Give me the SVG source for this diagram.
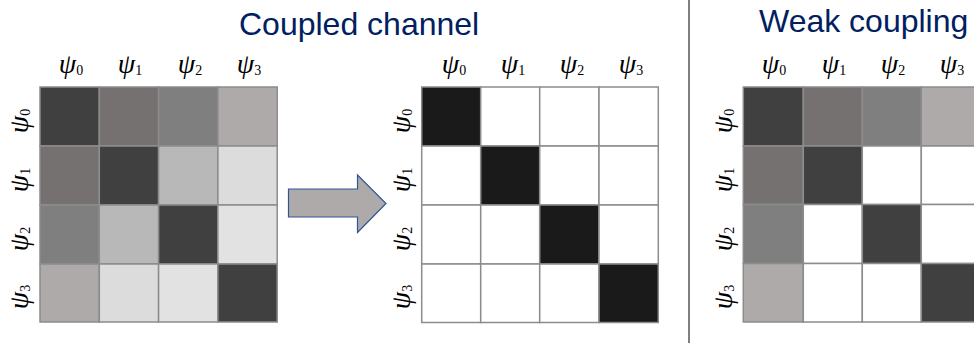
<svg xmlns="http://www.w3.org/2000/svg" width="974" height="347" viewBox="0 0 974 347">
<style>
.title{font-family:"Liberation Sans",Arial,sans-serif;font-size:32px;fill:#002060}
.lbl{font-family:"Liberation Serif","DejaVu Serif",serif;font-style:italic;font-size:28px;fill:#000;text-anchor:middle}
.sub{font-style:normal;font-size:14px}
.c{stroke:#8c8c8c;stroke-width:1.5}
.d{fill:#404040}.a{fill:#767171}.b{fill:#7f7f7f}.e{fill:#aeaaaa}.f{fill:#b8b8b8}.g{fill:#dcdcdc}.h{fill:#e2e2e2}.w{fill:#ffffff}.k{fill:#1a1a1a}
</style>
<rect width="974" height="347" fill="#ffffff"/>
<text class="title" x="239" y="35">Coupled channel</text>
<text class="title" x="759" y="32">Weak coupling</text>
<line x1="689" y1="0" x2="689" y2="343" stroke="#7f7f7f" stroke-width="2"/>

<g id="matrix-coupled">
<g transform="translate(40,87)">
<rect class="c d" x="0" y="0" width="59.3" height="59"/>
<rect class="c a" x="59.3" y="0" width="59.3" height="59"/>
<rect class="c b" x="118.6" y="0" width="59.3" height="59"/>
<rect class="c e" x="177.9" y="0" width="59.3" height="59"/>
<rect class="c a" x="0" y="59" width="59.3" height="59"/>
<rect class="c d" x="59.3" y="59" width="59.3" height="59"/>
<rect class="c f" x="118.6" y="59" width="59.3" height="59"/>
<rect class="c g" x="177.9" y="59" width="59.3" height="59"/>
<rect class="c b" x="0" y="118" width="59.3" height="59"/>
<rect class="c f" x="59.3" y="118" width="59.3" height="59"/>
<rect class="c d" x="118.6" y="118" width="59.3" height="59"/>
<rect class="c h" x="177.9" y="118" width="59.3" height="59"/>
<rect class="c e" x="0" y="177" width="59.3" height="58"/>
<rect class="c g" x="59.3" y="177" width="59.3" height="58"/>
<rect class="c h" x="118.6" y="177" width="59.3" height="58"/>
<rect class="c d" x="177.9" y="177" width="59.3" height="58"/>
</g>
<text class="lbl" x="71" y="73">ψ<tspan class="sub" dy="2">0</tspan></text>
<text class="lbl" x="130" y="73">ψ<tspan class="sub" dy="2">1</tspan></text>
<text class="lbl" x="190" y="73">ψ<tspan class="sub" dy="2">2</tspan></text>
<text class="lbl" x="249" y="73">ψ<tspan class="sub" dy="2">3</tspan></text>
<text class="lbl" transform="translate(28,121) rotate(-90)">ψ<tspan class="sub" dy="2">0</tspan></text>
<text class="lbl" transform="translate(28,180) rotate(-90)">ψ<tspan class="sub" dy="2">1</tspan></text>
<text class="lbl" transform="translate(28,239) rotate(-90)">ψ<tspan class="sub" dy="2">2</tspan></text>
<text class="lbl" transform="translate(28,297) rotate(-90)">ψ<tspan class="sub" dy="2">3</tspan></text>
</g>

<g id="arrow">
<path d="M288.5,189 L357.5,189 L357.5,175 L386,203.5 L357.5,232.5 L357.5,217 L288.5,217 Z" fill="#aeaaaa" stroke="#2f5597" stroke-width="1.2" stroke-linejoin="miter"/>
</g>

<g id="matrix-diagonal">
<g transform="translate(421.7,87)">
<rect class="c k" x="0" y="0" width="59" height="59"/>
<rect class="c w" x="59" y="0" width="59" height="59"/>
<rect class="c w" x="118" y="0" width="59.3" height="59"/>
<rect class="c w" x="177.3" y="0" width="59.3" height="59"/>
<rect class="c w" x="0" y="59" width="59" height="59"/>
<rect class="c k" x="59" y="59" width="59" height="59"/>
<rect class="c w" x="118" y="59" width="59.3" height="59"/>
<rect class="c w" x="177.3" y="59" width="59.3" height="59"/>
<rect class="c w" x="0" y="118" width="59" height="59"/>
<rect class="c w" x="59" y="118" width="59" height="59"/>
<rect class="c k" x="118" y="118" width="59.3" height="59"/>
<rect class="c w" x="177.3" y="118" width="59.3" height="59"/>
<rect class="c w" x="0" y="177" width="59" height="58.5"/>
<rect class="c w" x="59" y="177" width="59" height="58.5"/>
<rect class="c w" x="118" y="177" width="59.3" height="58.5"/>
<rect class="c k" x="177.3" y="177" width="59.3" height="58.5"/>
</g>
<text class="lbl" x="454" y="73">ψ<tspan class="sub" dy="2">0</tspan></text>
<text class="lbl" x="513" y="73">ψ<tspan class="sub" dy="2">1</tspan></text>
<text class="lbl" x="572" y="73">ψ<tspan class="sub" dy="2">2</tspan></text>
<text class="lbl" x="631" y="73">ψ<tspan class="sub" dy="2">3</tspan></text>
<text class="lbl" transform="translate(410,121) rotate(-90)">ψ<tspan class="sub" dy="2">0</tspan></text>
<text class="lbl" transform="translate(410,180) rotate(-90)">ψ<tspan class="sub" dy="2">1</tspan></text>
<text class="lbl" transform="translate(410,239) rotate(-90)">ψ<tspan class="sub" dy="2">2</tspan></text>
<text class="lbl" transform="translate(410,297) rotate(-90)">ψ<tspan class="sub" dy="2">3</tspan></text>
</g>

<g id="matrix-weak">
<g transform="translate(743.3,87)">
<rect class="c d" x="0" y="0" width="60" height="59"/>
<rect class="c a" x="60" y="0" width="59" height="59"/>
<rect class="c b" x="119" y="0" width="59" height="59"/>
<rect class="c e" x="178" y="0" width="59" height="59"/>
<rect class="c a" x="0" y="59" width="60" height="58.5"/>
<rect class="c d" x="60" y="59" width="59" height="58.5"/>
<rect class="c w" x="119" y="59" width="59" height="58.5"/>
<rect class="c w" x="178" y="59" width="59" height="58.5"/>
<rect class="c b" x="0" y="117.5" width="60" height="59"/>
<rect class="c w" x="60" y="117.5" width="59" height="59"/>
<rect class="c d" x="119" y="117.5" width="59" height="59"/>
<rect class="c w" x="178" y="117.5" width="59" height="59"/>
<rect class="c e" x="0" y="176.5" width="60" height="58.5"/>
<rect class="c w" x="60" y="176.5" width="59" height="58.5"/>
<rect class="c w" x="119" y="176.5" width="59" height="58.5"/>
<rect class="c d" x="178" y="176.5" width="59" height="58.5"/>
</g>
<text class="lbl" x="774" y="73">ψ<tspan class="sub" dy="2">0</tspan></text>
<text class="lbl" x="834" y="73">ψ<tspan class="sub" dy="2">1</tspan></text>
<text class="lbl" x="893" y="73">ψ<tspan class="sub" dy="2">2</tspan></text>
<text class="lbl" x="952" y="73">ψ<tspan class="sub" dy="2">3</tspan></text>
<text class="lbl" transform="translate(732,121) rotate(-90)">ψ<tspan class="sub" dy="2">0</tspan></text>
<text class="lbl" transform="translate(732,180) rotate(-90)">ψ<tspan class="sub" dy="2">1</tspan></text>
<text class="lbl" transform="translate(732,239) rotate(-90)">ψ<tspan class="sub" dy="2">2</tspan></text>
<text class="lbl" transform="translate(732,297) rotate(-90)">ψ<tspan class="sub" dy="2">3</tspan></text>
</g>
</svg>
